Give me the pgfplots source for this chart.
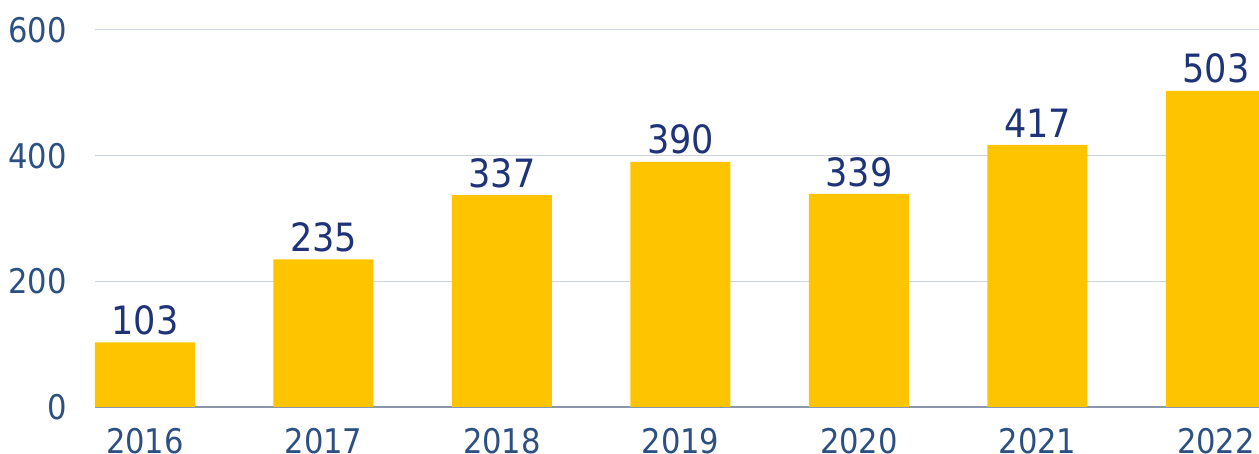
\documentclass[border=0pt]{standalone}
\usepackage{fontspec}
\setmainfont{DejaVu Sans Condensed}
\usepackage{pgfplots}
\pgfplotsset{compat=1.18}
\definecolor{barc}{HTML}{FFC400}
\definecolor{tickc}{HTML}{2D5082}
\definecolor{valc}{HTML}{1F3478}
\definecolor{gridc}{HTML}{CDD3DD}
\definecolor{basec}{HTML}{8A96AA}
\begin{document}
\begin{tikzpicture}
\begin{axis}[name=ax, scale only axis, width=582pt, height=188.5pt,
 xmin=-0.2801, xmax=6.241, ymin=0, ymax=600,
 ybar, bar width=50pt, bar shift=0pt,
 /pgf/number format/assume math mode=true,
 xtick={0,1,2,3,4,5,6}, xticklabels={2016,2017,2018,2019,2020,2021,2022},
 ytick={200,400,600}, extra y ticks={0},
 extra y tick style={major grid style={color=basec, line width=0.75pt}},
 ymajorgrids, major grid style={color=gridc, line width=0.5pt},
 axis line style={draw=none}, major tick length=0pt,
 tick label style={font=\fontsize{17}{20}\selectfont, text=tickc},
 yticklabel style={anchor=east, inner sep=0pt, xshift=-14pt},
 xticklabel style={anchor=north, inner sep=0pt, yshift=-10.5pt},
 nodes near coords,
 nodes near coords style={font=\fontsize{19.5}{22}\selectfont, text=valc, anchor=south, inner sep=0pt, yshift=3.5pt},
 clip=true]
\addplot[fill=barc, draw=none] coordinates {(0,103) (1,235) (2,337) (3,390) (4,339) (5,417) (6,503)};
\end{axis}
\pgfresetboundingbox
\path[use as bounding box] ([shift={(-47.5pt,-23.5pt)}]ax.south west) rectangle ([shift={(0pt,15pt)}]ax.north east);
\end{tikzpicture}
\end{document}
